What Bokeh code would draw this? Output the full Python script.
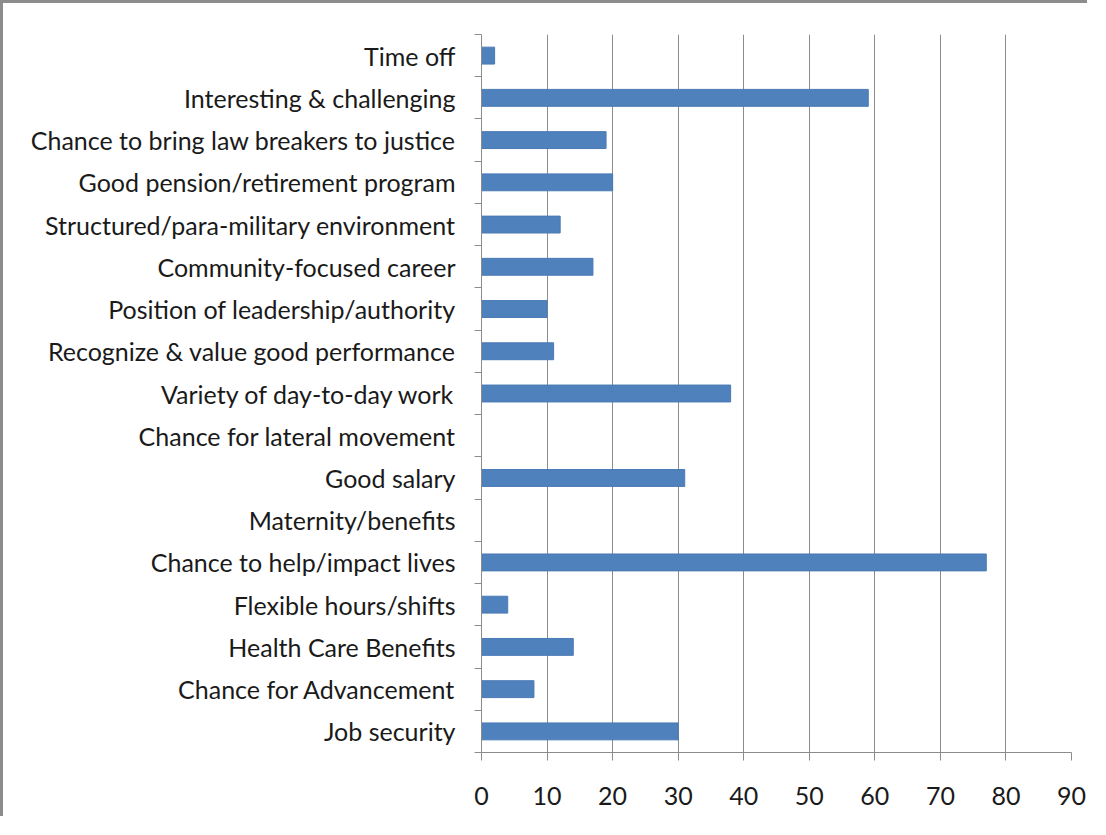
import numpy as np
from bokeh.plotting import figure
from bokeh.models import FixedTicker, Range1d
from bokeh.embed import file_html
from bokeh.resources import INLINE

categories = [
    "Job security",
    "Chance for Advancement",
    "Health Care Benefits",
    "Flexible hours/shifts",
    "Chance to help/impact lives",
    "Maternity/benefits",
    "Good salary",
    "Chance for lateral movement",
    "Variety of day-to-day work",
    "Recognize & value good performance",
    "Position of leadership/authority",
    "Community-focused career",
    "Structured/para-military environment",
    "Good pension/retirement program",
    "Chance to bring law breakers to justice",
    "Interesting & challenging",
    "Time off",
]
values = [30, 8, 14, 4, 77, 0, 31, 0, 38, 11, 10, 17, 12, 20, 19, 59, 2]
x_ticks = [0, 10, 20, 30, 40, 50, 60, 70, 80, 90]

n = len(categories)
centers = [i + 0.5 for i in range(n)]
bounds = list(range(n + 1))

FONT = "Lato"
FS = "25px"
TXT = "#1a1a1a"
GRAY = "#8c8c8c"

p = figure(width=1087, height=816, output_backend="svg", toolbar_location=None,
           x_range=Range1d(0, 90), y_range=Range1d(0, n),
           min_border_left=478, min_border_right=19, min_border_top=31, min_border_bottom=67)
p.outline_line_color = None
p.background_fill_color = "white"
p.border_fill_color = "white"

p.hbar(y=centers, right=values, left=0, height=0.4, fill_color="#4f81bd", line_color="#4a7ab5")

# x axis
p.xaxis.ticker = FixedTicker(ticks=x_ticks)
p.xaxis.axis_line_color = GRAY
p.xaxis.major_tick_line_color = GRAY
p.xaxis.major_tick_in = 0
p.xaxis.major_tick_out = 8
p.xaxis.minor_tick_line_color = None
p.xaxis.major_label_text_font = FONT
p.xaxis.major_label_text_font_size = FS
p.xaxis.major_label_text_color = TXT
p.xaxis.major_label_standoff = 26

# y axis: labels at centers, ticks at boundaries
p.yaxis.ticker = FixedTicker(ticks=centers, minor_ticks=bounds)
p.yaxis.major_label_overrides = {c: lab for c, lab in zip(centers, categories)}
p.yaxis.axis_line_color = GRAY
p.yaxis.major_tick_line_color = None
p.yaxis.major_tick_in = 0
p.yaxis.major_tick_out = 7
p.yaxis.minor_tick_line_color = GRAY
p.yaxis.minor_tick_in = 0
p.yaxis.minor_tick_out = 7
p.yaxis.major_label_text_font = FONT
p.yaxis.major_label_text_font_size = FS
p.yaxis.major_label_text_color = TXT
p.yaxis.major_label_standoff = 19

p.xgrid.ticker = FixedTicker(ticks=x_ticks)
p.xgrid.grid_line_color = GRAY
p.ygrid.grid_line_color = None

p.styles = {"border-left": "3px solid #8c8c8c", "border-top": "3px solid #8c8c8c"}

open("out.html", "w").write(file_html(p, INLINE))
